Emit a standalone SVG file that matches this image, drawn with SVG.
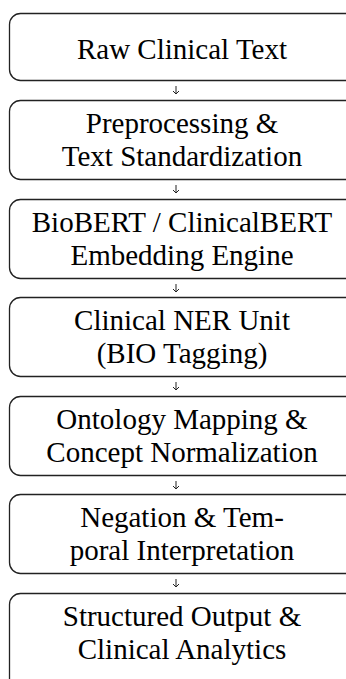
<svg xmlns="http://www.w3.org/2000/svg" width="346" height="679" viewBox="0 0 346 679">
<style>
.box{fill:#fff;stroke:#222;stroke-width:1.3}
.arr{fill:none;stroke:#222;stroke-width:1}
.t{font-family:'Liberation Serif','Times New Roman',serif;font-size:29px;fill:#000;text-anchor:middle}
</style>
<rect width="346" height="679" fill="#fff"/>
<g id="connectors">
<path class="arr" d="M176,86 V94 M173,91 L176,94 L179,91"/>
<path class="arr" d="M176,185 V193 M173,190 L176,193 L179,190"/>
<path class="arr" d="M176,284 V292 M173,289 L176,292 L179,289"/>
<path class="arr" d="M176,382 V390 M173,387 L176,390 L179,387"/>
<path class="arr" d="M176,481 V489 M173,486 L176,489 L179,486"/>
<path class="arr" d="M176,579 V587 M173,584 L176,587 L179,584"/>
</g>
<g id="n1"><rect class="box" x="9.5" y="13.5" width="360" height="67" rx="11"/><text class="t" x="182" y="59">Raw Clinical Text</text></g>
<g id="n2"><rect class="box" x="9.5" y="100.5" width="360" height="79" rx="11"/><text class="t" x="182" y="133">Preprocessing &amp;</text><text class="t" x="182" y="166">Text Standardization</text></g>
<g id="n3"><rect class="box" x="9.5" y="199.5" width="360" height="79" rx="11"/><text class="t" x="182" y="232">BioBERT / ClinicalBERT</text><text class="t" x="182" y="265">Embedding Engine</text></g>
<g id="n4"><rect class="box" x="9.5" y="297.5" width="360" height="79" rx="11"/><text class="t" x="182" y="330">Clinical NER Unit</text><text class="t" x="182" y="363">(BIO Tagging)</text></g>
<g id="n5"><rect class="box" x="9.5" y="396.5" width="360" height="79" rx="11"/><text class="t" x="182" y="429">Ontology Mapping &amp;</text><text class="t" x="182" y="462">Concept Normalization</text></g>
<g id="n6"><rect class="box" x="9.5" y="494.5" width="360" height="79" rx="11"/><text class="t" x="182" y="527">Negation &amp; Tem-</text><text class="t" x="182" y="560">poral Interpretation</text></g>
<g id="n7"><rect class="box" x="9.5" y="593.5" width="360" height="120" rx="11"/><text class="t" x="182" y="626">Structured Output &amp;</text><text class="t" x="182" y="659">Clinical Analytics</text></g>
</svg>
